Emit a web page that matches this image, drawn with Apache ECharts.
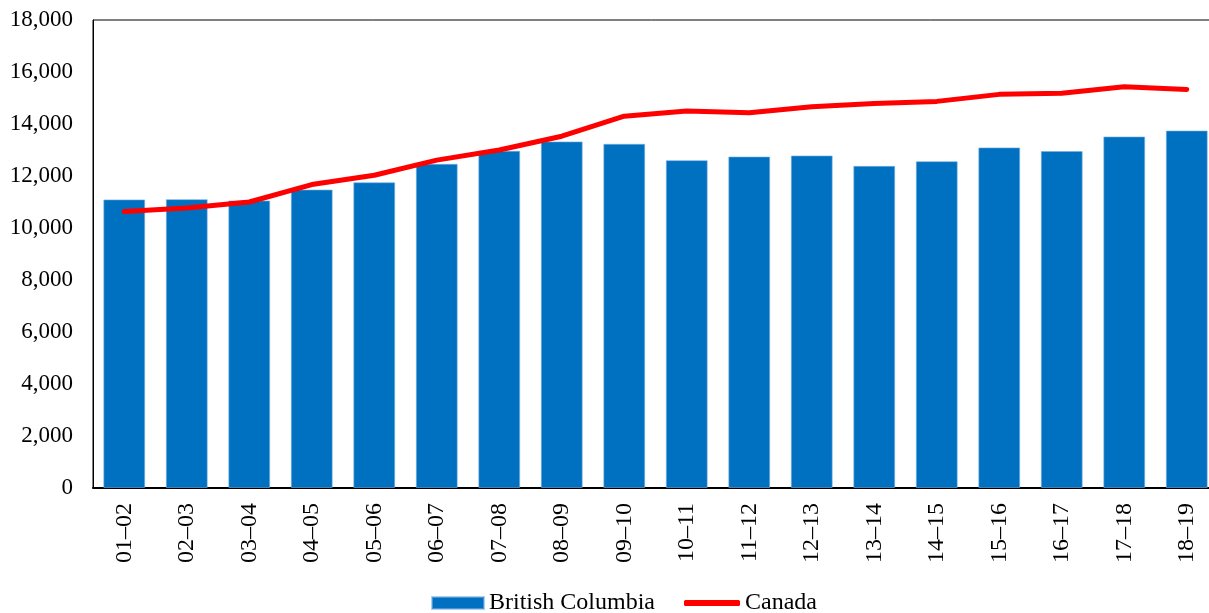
<!DOCTYPE html>
<html>
<head>
<meta charset="utf-8">
<script src="https://cdn.jsdelivr.net/npm/echarts@6/dist/echarts.min.js"></script>
<style>
  html, body { margin: 0; padding: 0; background: #fff; }
  #chart { width: 1209px; height: 613px; }
</style>
</head>
<body>
<div id="chart"></div>
<script>
// Fiscal years
const years = ['01–02','02–03','03–04','04–05','05–06','06–07','07–08','08–09','09–10',
               '10–11','11–12','12–13','13–14','14–15','15–16','16–17','17–18','18–19'];
// British Columbia (bars)
const bcValues = [11100, 11110, 11060, 11480, 11760, 12470, 12970, 13330, 13240,
                  12610, 12750, 12790, 12390, 12570, 13100, 12960, 13520, 13750];
// Canada (line)
const canadaValues = [10630, 10770, 11000, 11670, 12030, 12610, 13000, 13530, 14300,
                      14500, 14430, 14660, 14790, 14870, 15140, 15180, 15430, 15330];
// Value-axis settings
const yMin = 0, yMax = 18000, yStep = 2000;

const font = 'Liberation Serif, Times New Roman, serif';
const legendText = { fontFamily: font, fontSize: 24, color: '#000' };

const chart = echarts.init(document.getElementById('chart'));
chart.setOption({
  animation: false,
  textStyle: { fontFamily: font },
  grid: {
    left: 93, top: 20, width: 1125, bottom: 125,
    outerBoundsMode: 'none',
    show: true, borderColor: '#000', borderWidth: 1, backgroundColor: 'transparent'
  },
  legend: [
    {
      left: 426, top: 586, itemWidth: 52, itemHeight: 12,
      textStyle: legendText,
      data: [{ name: 'British Columbia', icon: 'rect' }]
    },
    {
      left: 679, top: 586, itemWidth: 56, itemHeight: 6,
      textStyle: legendText,
      data: [{ name: 'Canada', icon: 'roundRect', itemStyle: { color: '#ff0000' } }]
    }
  ],
  xAxis: {
    type: 'category',
    data: years,
    axisLine: { lineStyle: { color: '#000', width: 2 } },
    axisTick: { show: false },
    axisLabel: { rotate: 90, fontFamily: font, fontSize: 24, color: '#000', margin: 15 }
  },
  yAxis: {
    type: 'value',
    min: yMin, max: yMax, interval: yStep,
    splitLine: { show: false },
    axisLine: { show: true, lineStyle: { color: '#000', width: 1 } },
    axisTick: { show: false },
    axisLabel: {
      fontFamily: font, fontSize: 23, color: '#000', margin: 20,
      formatter: v => v.toLocaleString('en-US')
    }
  },
  series: [
    {
      name: 'British Columbia',
      type: 'bar',
      data: bcValues,
      barWidth: '67%',
      itemStyle: { color: '#0070c0', borderColor: 'rgba(120,175,225,0.6)', borderWidth: 1 }
    },
    {
      name: 'Canada',
      type: 'line',
      data: canadaValues,
      symbol: 'none',
      lineStyle: { color: '#ff0000', width: 5, cap: 'round', join: 'round' },
      itemStyle: { color: '#ff0000' }
    }
  ]
});
</script>
</body>
</html>
